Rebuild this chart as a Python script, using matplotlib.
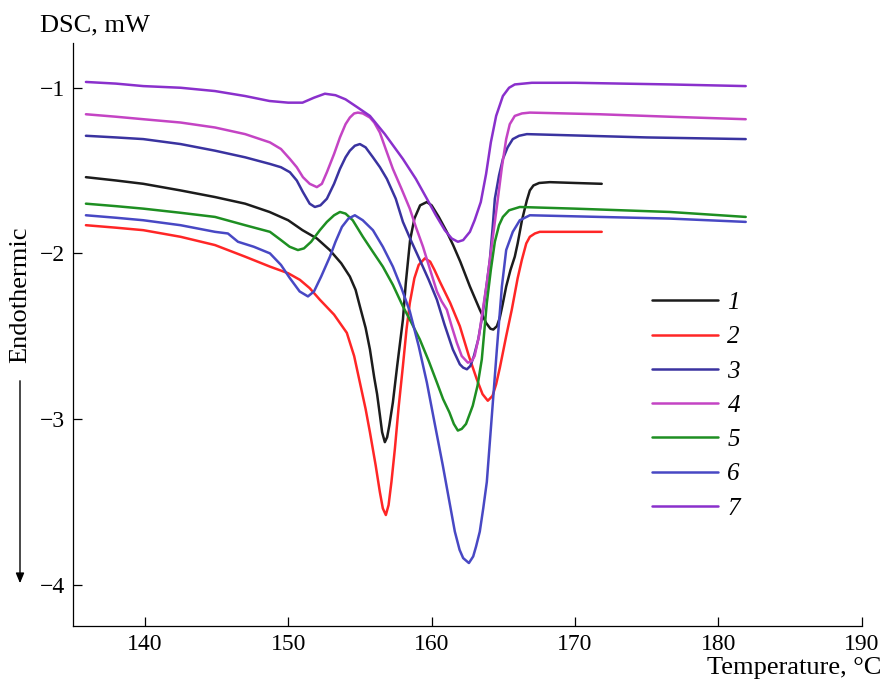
import numpy as np
import matplotlib
matplotlib.use('Agg')
import matplotlib.pyplot as plt

plt.rcParams['font.family'] = ['Liberation Serif', 'DejaVu Serif']

# curve 1 (black)
t1 = [135.9, 138.0, 139.9, 142.5, 144.9, 147.0, 148.7, 150.0, 151.0, 152.0, 152.9, 153.7, 154.3,
      154.7, 155.0, 155.4, 155.7, 156.0, 156.2, 156.4, 156.55, 156.74, 156.9, 157.05, 157.3,
      157.6, 158.0, 158.2, 158.5, 158.8, 159.2, 159.67, 160.0, 160.5, 161.06, 161.5, 162.0,
      162.67, 163.36, 163.8, 164.1, 164.3, 164.55, 164.75, 164.95, 165.2, 165.5, 165.8, 166.0,
      166.3, 166.64, 166.85, 167.1, 167.5, 168.24, 170.0, 171.86]
y1 = [-1.54, -1.56, -1.58, -1.62, -1.66, -1.70, -1.75, -1.80, -1.86, -1.91, -1.98, -2.06, -2.14,
      -2.22, -2.32, -2.45, -2.58, -2.75, -2.85, -2.98, -3.08, -3.14, -3.11, -3.04, -2.90,
      -2.68, -2.40, -2.18, -1.92, -1.79, -1.71, -1.69, -1.71, -1.78, -1.87, -1.95, -2.05,
      -2.20, -2.34, -2.42, -2.455, -2.46, -2.44, -2.39, -2.31, -2.20, -2.10, -2.02, -1.94,
      -1.80, -1.68, -1.62, -1.59, -1.575, -1.57, -1.575, -1.58]

# curve 2 (red)
t2 = [135.9, 138.0, 139.9, 142.5, 144.9, 147.0, 148.73, 150.0, 150.82, 151.5, 152.21, 153.2,
      154.09, 154.6, 155.0, 155.4, 155.7, 156.1, 156.39, 156.6, 156.81, 157.0, 157.2, 157.44,
      157.7, 158.0, 158.25, 158.48, 158.8, 159.1, 159.53, 159.9, 160.2, 160.57, 161.3, 161.97,
      162.6, 163.15, 163.55, 163.92, 164.25, 164.5, 164.76, 165.2, 165.59, 166.0, 166.29,
      166.6, 166.85, 167.2, 167.54, 171.86]
y2 = [-1.83, -1.845, -1.86, -1.90, -1.95, -2.02, -2.08, -2.12, -2.16, -2.21, -2.28, -2.37,
      -2.48, -2.62, -2.78, -2.94, -3.08, -3.28, -3.44, -3.54, -3.58, -3.52, -3.38, -3.18,
      -2.93, -2.68, -2.46, -2.30, -2.15, -2.07, -2.03, -2.05, -2.10, -2.17, -2.30, -2.44,
      -2.62, -2.76, -2.85, -2.89, -2.86, -2.79, -2.69, -2.50, -2.34, -2.15, -2.04,
      -1.94, -1.90, -1.88, -1.87, -1.87]

# curve 3 (navy)
t3 = [135.9, 138.0, 139.9, 142.5, 144.9, 147.0, 148.73, 149.5, 150.12, 150.6, 151.03, 151.5,
      151.86, 152.25, 152.7, 153.2, 153.61, 154.0, 154.3, 154.65, 155.0, 155.4, 155.91, 156.4,
      156.88, 157.5, 158.0, 158.6, 159.18, 159.8, 160.37, 160.9, 161.48, 161.97, 162.2, 162.46,
      162.7, 162.95, 163.25, 163.57, 163.85, 164.06, 164.25, 164.41, 164.7, 164.97, 165.3,
      165.66, 166.1, 166.64, 175.0, 181.9]
y3 = [-1.29, -1.30, -1.31, -1.34, -1.38, -1.42, -1.46, -1.48, -1.51, -1.56, -1.63, -1.70,
      -1.72, -1.71, -1.67, -1.58, -1.49, -1.42, -1.38, -1.35, -1.34, -1.36, -1.42, -1.48,
      -1.55, -1.67, -1.81, -1.93, -2.04, -2.16, -2.28, -2.43, -2.58, -2.67, -2.69, -2.70,
      -2.68, -2.62, -2.52, -2.36, -2.18, -2.04, -1.85, -1.67, -1.53, -1.43, -1.36,
      -1.31, -1.29, -1.28, -1.30, -1.31]

# curve 4 (magenta)
t4 = [135.9, 138.0, 139.9, 142.5, 144.9, 147.0, 148.73, 149.5, 150.12, 150.6, 151.03, 151.5,
      152.0, 152.35, 152.7, 153.2, 153.61, 154.0, 154.3, 154.6, 154.86, 155.2, 155.7, 156.0,
      156.39, 156.8, 157.3, 157.9, 158.48, 158.9, 159.4, 159.9, 160.37, 160.7, 161.06, 161.4,
      161.76, 162.1, 162.53, 162.8, 163.0, 163.3, 163.57, 163.85, 164.06, 164.35, 164.62,
      164.9, 165.2, 165.45, 165.8, 166.3, 166.85, 171.7, 176.6, 181.9]
y4 = [-1.16, -1.175, -1.19, -1.21, -1.24, -1.28, -1.33, -1.37, -1.43, -1.48, -1.54, -1.58,
      -1.60, -1.58, -1.51, -1.40, -1.30, -1.22, -1.18, -1.155, -1.15, -1.155, -1.18, -1.21,
      -1.27, -1.37, -1.49, -1.61, -1.73, -1.84, -1.96, -2.10, -2.23, -2.29, -2.34, -2.44,
      -2.54, -2.62, -2.66, -2.65, -2.62, -2.50, -2.34, -2.18, -2.04, -1.85, -1.67,
      -1.48, -1.31, -1.22, -1.17, -1.155, -1.15, -1.16, -1.175, -1.19]

# curve 5 (green)
t5 = [135.9, 138.0, 139.9, 142.5, 144.9, 147.0, 148.73, 149.5, 150.1, 150.68, 151.1, 151.6,
      152.21, 152.7, 153.2, 153.61, 154.0, 154.5, 155.21, 155.9, 156.6, 157.3, 158.0, 158.6,
      159.18, 159.8, 160.37, 160.8, 161.24, 161.55, 161.83, 162.1, 162.4, 162.87, 163.2,
      163.5, 163.85, 164.13, 164.41, 164.7, 164.97, 165.4, 166.15, 170.0, 176.6, 181.9]
y5 = [-1.70, -1.715, -1.73, -1.755, -1.78, -1.83, -1.87, -1.92, -1.96, -1.98, -1.97, -1.93,
      -1.86, -1.81, -1.77, -1.75, -1.76, -1.80, -1.90, -1.99, -2.08, -2.19, -2.32, -2.42,
      -2.52, -2.65, -2.78, -2.88, -2.96, -3.03, -3.07, -3.06, -3.03, -2.92, -2.80,
      -2.64, -2.30, -2.10, -1.93, -1.83, -1.78, -1.74, -1.72, -1.73, -1.75, -1.78]

# curve 6 (blue)
t6 = [135.9, 138.0, 139.9, 142.5, 144.9, 145.8, 146.5, 147.6, 148.73, 149.5, 150.12, 150.8,
      151.38, 151.8, 152.3, 152.91, 153.3, 153.75, 154.2, 154.65, 155.2, 155.91, 156.6, 157.3,
      157.9, 158.48, 159.1, 159.67, 160.2, 160.78, 161.2, 161.62, 161.95, 162.2, 162.6, 162.9,
      163.1, 163.36, 163.6, 163.85, 164.2, 164.55, 164.9, 165.2, 165.66, 166.15, 166.85,
      176.6, 181.9]
y6 = [-1.77, -1.785, -1.80, -1.83, -1.87, -1.88, -1.93, -1.96, -2.00, -2.07, -2.15, -2.23,
      -2.26, -2.23, -2.14, -2.02, -1.93, -1.84, -1.79, -1.77, -1.80, -1.86, -1.96, -2.08,
      -2.21, -2.35, -2.56, -2.78, -3.02, -3.28, -3.48, -3.68, -3.79, -3.84, -3.87, -3.83,
      -3.77, -3.68, -3.54, -3.38, -2.98, -2.58, -2.20, -1.98, -1.87, -1.80, -1.77,
      -1.79, -1.81]

# curve 7 (purple)
t7 = [135.9, 138.0, 139.9, 142.5, 144.9, 147.0, 148.7, 150.0, 151.0, 151.8, 152.56, 153.3,
      154.0, 154.86, 155.7, 156.74, 158.0, 158.9, 159.67, 160.3, 160.92, 161.4, 161.83, 162.2,
      162.67, 163.0, 163.43, 163.8, 164.13, 164.5, 164.97, 165.4, 165.8, 166.99, 170.0,
      176.6, 181.9]
y7 = [-0.965, -0.975, -0.99, -1.00, -1.02, -1.05, -1.08, -1.09, -1.09, -1.06, -1.036, -1.045,
      -1.07, -1.12, -1.17, -1.28, -1.43, -1.55, -1.67, -1.77, -1.86, -1.91, -1.93, -1.92,
      -1.87, -1.80, -1.69, -1.52, -1.33, -1.17, -1.05, -1.00, -0.98, -0.97, -0.97,
      -0.98, -0.99]

labels = ['1', '2', '3', '4', '5', '6', '7']
colors = ['#1c1c1c', '#ff2626', '#3a33a0', '#c444c4', '#1e8f22', '#4848c4', '#8a30cc']
series = [(t1, y1), (t2, y2), (t3, y3), (t4, y4), (t5, y5), (t6, y6), (t7, y7)]

fig = plt.figure(figsize=(8.84, 6.81), dpi=100)
ax = fig.add_axes([0.0826, 0.0808, 0.8924, 0.856])

for (t, y), c, lab in zip(series, colors, labels):
  ax.plot(t, y, color=c, lw=1.8, label=lab, solid_joinstyle='round', solid_capstyle='round')

ax.set_xlim(135, 190)
ax.set_ylim(-4.25, -0.73)
ax.set_xticks([140, 150, 160, 170, 180, 190])
ax.set_yticks([-1, -2, -3, -4])
ax.spines['top'].set_visible(False)
ax.spines['right'].set_visible(False)
for s in ['left', 'bottom']:
  ax.spines[s].set_linewidth(0.9)
ax.tick_params(direction='in', length=6.5, width=0.9, labelsize=17, pad=6)

fig.text(40/884, 1 - 25/681, 'DSC, mW', fontsize=19, ha='left', va='center')
fig.text(881/884, 1 - 668/681, 'Temperature, \u00b0C', fontsize=19, ha='right', va='center')
fig.text(20/884, 1 - 295/681, 'Endothermic', fontsize=19, rotation=90, ha='center', va='center')
fig.add_artist(matplotlib.patches.FancyArrowPatch(
  (20/884, 1 - 378/681), (20/884, 1 - 586/681), transform=fig.transFigure,
  arrowstyle='-|>,head_length=6,head_width=2.5', color='black', lw=1.0))

leg = ax.legend(loc='upper left', bbox_to_anchor=(0.706, 0.612), frameon=False,
                handlelength=2.64, handletextpad=0.36, labelspacing=0.47,
                prop={'style': 'italic', 'size': 18})

plt.savefig('out.png', dpi=100)
